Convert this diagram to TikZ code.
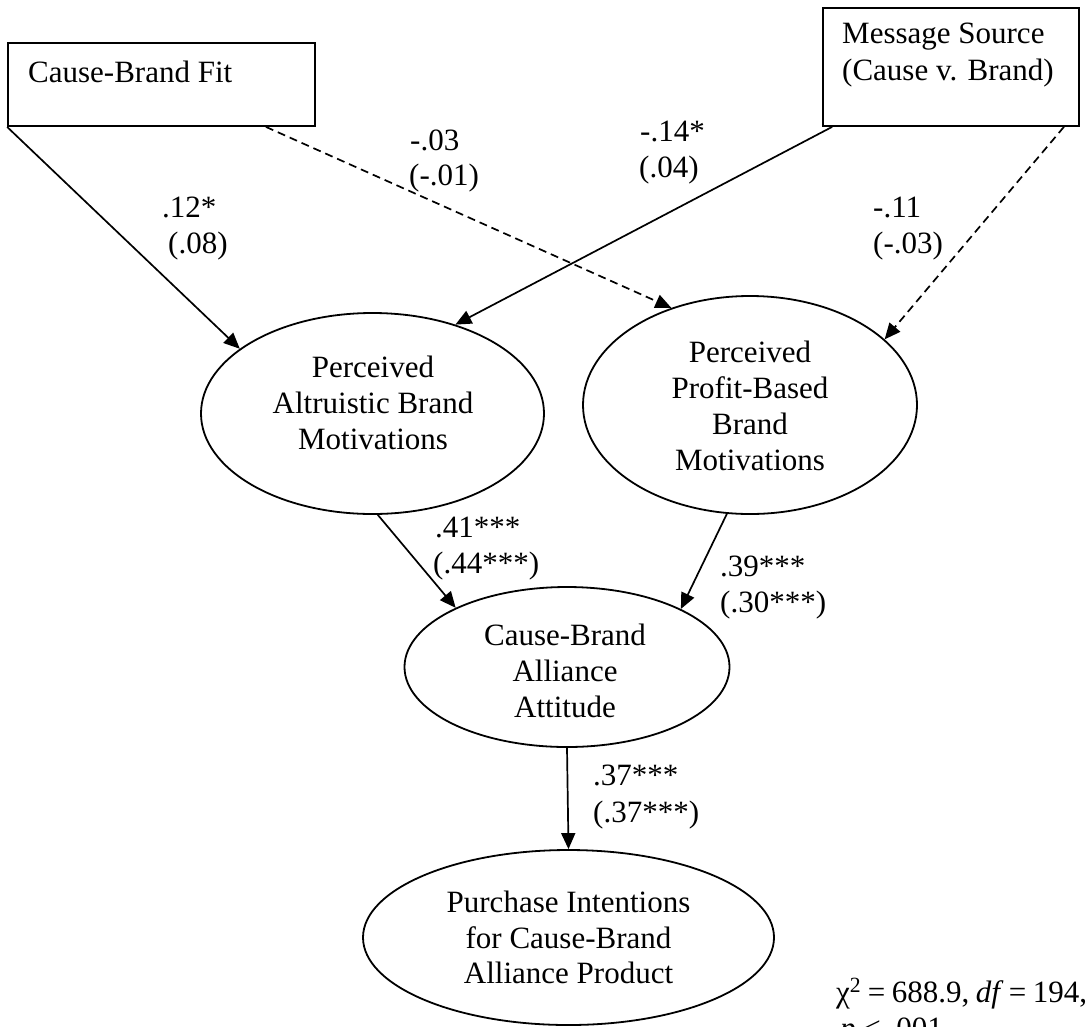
\documentclass[tikz,border=0pt]{standalone}
\usepackage{fontspec}
\setmainfont{Liberation Serif}
\usetikzlibrary{arrows.meta,calc,shapes.geometric}
\begin{document}
\begin{tikzpicture}[x=1pt,y=-1pt,
  every node/.style={font=\fontsize{31}{36}\selectfont},
  txt/.style={anchor=base, inner sep=0pt},
  txtl/.style={anchor=base west, inner sep=0pt},
  varbox/.style={draw, rectangle, line width=1.8pt, inner sep=0pt},
  latent/.style={draw, ellipse, line width=1.8pt, inner sep=0pt},
  effect/.style={line width=1.7pt, -{Triangle[length=16pt,width=14pt]}},
  weakeffect/.style={effect, dash pattern=on 8pt off 5pt}]
\useasboundingbox (0,0) rectangle (1091,1026);

% observed variables
\node[varbox, minimum width=307pt, minimum height=83pt] (b1) at (161.5,84.5) {};
\node[txtl] (b1t) at (28,82) {Cause-Brand Fit};
\node[varbox, minimum width=256pt, minimum height=118pt] (b2) at (951,67) {};
\node[txtl] (b2a) at (842,43) {Message Source};
\node[txtl] (b2b) at (842,80) {(Cause v. Brand)};

% latent constructs
\node[latent, minimum width=343pt, minimum height=201pt] (e1) at (372.5,413.5) {};
\node[txt] (e1a) at (373,377) {Perceived};
\node[txt] (e1b) at (373,413) {Altruistic Brand};
\node[txt] (e1c) at (373,449) {Motivations};

\node[latent, minimum width=334pt, minimum height=218pt] (e2) at (750,405) {};
\node[txt] (e2a) at (750,362) {Perceived};
\node[txt] (e2b) at (750,398) {Profit-Based};
\node[txt] (e2c) at (750,434) {Brand};
\node[txt] (e2d) at (750,470) {Motivations};

\node[latent, minimum width=325pt, minimum height=160pt] (e3) at (567,667) {};
\node[txt] (e3a) at (565,645) {Cause-Brand};
\node[txt] (e3b) at (565,681) {Alliance};
\node[txt] (e3c) at (565,717) {Attitude};

\node[latent, minimum width=411pt, minimum height=175pt] (e4) at (568.5,937.5) {};
\node[txt] (e4a) at (568.5,912) {Purchase Intentions};
\node[txt] (e4b) at (568.5,948) {for Cause-Brand};
\node[txt] (e4c) at (568.5,983) {Alliance Product};

% structural paths
\draw[effect] (b1.south west) -- (e1.154.9);
\draw[weakeffect] ($(b1.south east)+(-50,0)$) -- (e2.129.6);
\draw[effect] ($(b2.south west)+(10,0)$) -- (e1.47);
\draw[weakeffect] ($(b2.south east)+(-16,0)$) -- (e2.26.7);
\draw[effect] (e1.-87) -- (e3.152.5);
\draw[effect] (e2.-102) -- (e3.27.3);
\draw[effect] (e3.south) -- (e4.north);

% path coefficients
\node[txtl] (c1a) at (162,217) {.12*};
\node[txtl] (c1b) at (168,253) {(.08)};
\node[txtl] (c2a) at (410,150) {-.03};
\node[txtl] (c2b) at (409,185) {(-.01)};
\node[txtl] (c3a) at (640,141) {-.14*};
\node[txtl] (c3b) at (639,177) {(.04)};
\node[txtl] (c4a) at (873,217) {-.11};
\node[txtl] (c4b) at (873,253) {(-.03)};
\node[txtl] (c5a) at (435,537) {.41***};
\node[txtl] (c5b) at (433,573) {(.44***)};
\node[txtl] (c6a) at (720,576) {.39***};
\node[txtl] (c6b) at (720,612) {(.30***)};
\node[txtl] (c7a) at (593,785) {.37***};
\node[txtl] (c7b) at (593,822) {(.37***)};

% model fit
\node[txtl] (fit1) at (836,1002) {\spaceskip=6.5pt χ\textsuperscript{2} = 688.9, \textit{df}\kern-1pt{} = 194,};
\node[txtl] (fit2) at (840,1038) {\textit{p} < .001};
\end{tikzpicture}
\end{document}
